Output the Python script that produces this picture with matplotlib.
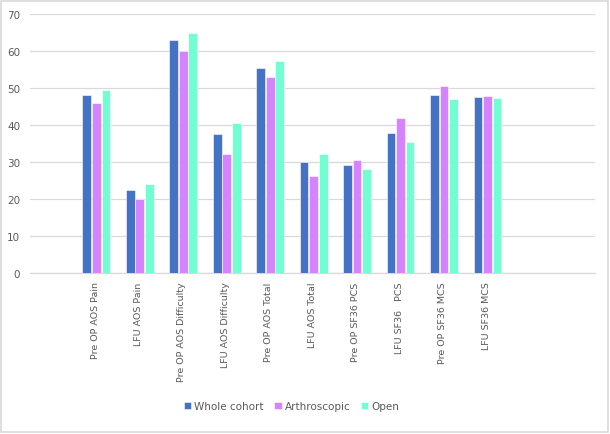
import matplotlib
matplotlib.use('Agg')
import matplotlib.pyplot as plt
from matplotlib.patches import Rectangle
import numpy as np

categories = ['', 'Pre OP AOS Pain', 'LFU AOS Pain', 'Pre OP AOS Difficulty',
              'LFU AOS Difficulty', 'Pre OP AOS Total', 'LFU AOS Total',
              'Pre OP SF36 PCS', 'LFU SF36   PCS', 'Pre OP SF36 MCS',
              'LFU SF36 MCS', '', '']
whole = [np.nan, 48.0, 22.5, 63.1, 37.5, 55.5, 30.0, 29.1, 37.8, 48.2, 47.6, np.nan, np.nan]
arthro = [np.nan, 46.0, 20.0, 60.0, 32.3, 53.1, 26.1, 30.5, 41.8, 50.6, 47.9, np.nan, np.nan]
open_ = [np.nan, 49.4, 24.0, 65.0, 40.5, 57.2, 32.3, 28.0, 35.3, 46.9, 47.2, np.nan, np.nan]
series = ['Whole cohort', 'Arthroscopic', 'Open']
colors = ['#4472C4', '#D683FF', '#73FDD2']

fig = plt.figure(figsize=(6.1, 4.35), dpi=100)
ax = fig.add_axes([0.049, 0.370, 0.926, 0.5955])

x = np.arange(len(categories))
w = 0.2
step = 0.22
for i, (vals, c, lab) in enumerate(zip([whole, arthro, open_], colors, series)):
    ax.bar(x + (i - 1) * step + 0.03, vals, w, color=c, label=lab,
           edgecolor='white', linewidth=0.4, zorder=3)

ax.set_xlim(-0.5, len(categories) - 0.5)
ax.set_ylim(0, 70)
ax.set_yticks(range(0, 71, 10))
ax.yaxis.grid(True, color='#D9D9D9', linewidth=0.9, zorder=0)
ax.set_xticks(x)
ax.set_xticklabels(categories, rotation=90, fontsize=6.8, color='#595959')
ax.tick_params(axis='y', labelsize=7.5, labelcolor='#595959', length=0, pad=7)
ax.tick_params(axis='x', length=0, pad=6)
for s in ['top', 'right', 'left']:
    ax.spines[s].set_visible(False)
ax.spines['bottom'].set_color('#D9D9D9')
ax.spines['bottom'].set_linewidth(0.9)

fig.legend(loc='center', bbox_to_anchor=(0.478, 0.064), ncol=3, frameon=False,
           fontsize=7.5, labelcolor='#595959', handlelength=0.7, handleheight=0.7,
           handletextpad=0.3, columnspacing=1.0)

fig.patches.append(Rectangle((0.002, 0.004), 0.994, 0.992, transform=fig.transFigure,
                             fill=False, edgecolor='#D9D9D9', linewidth=1.2))

fig.savefig('out.png', dpi=100)
